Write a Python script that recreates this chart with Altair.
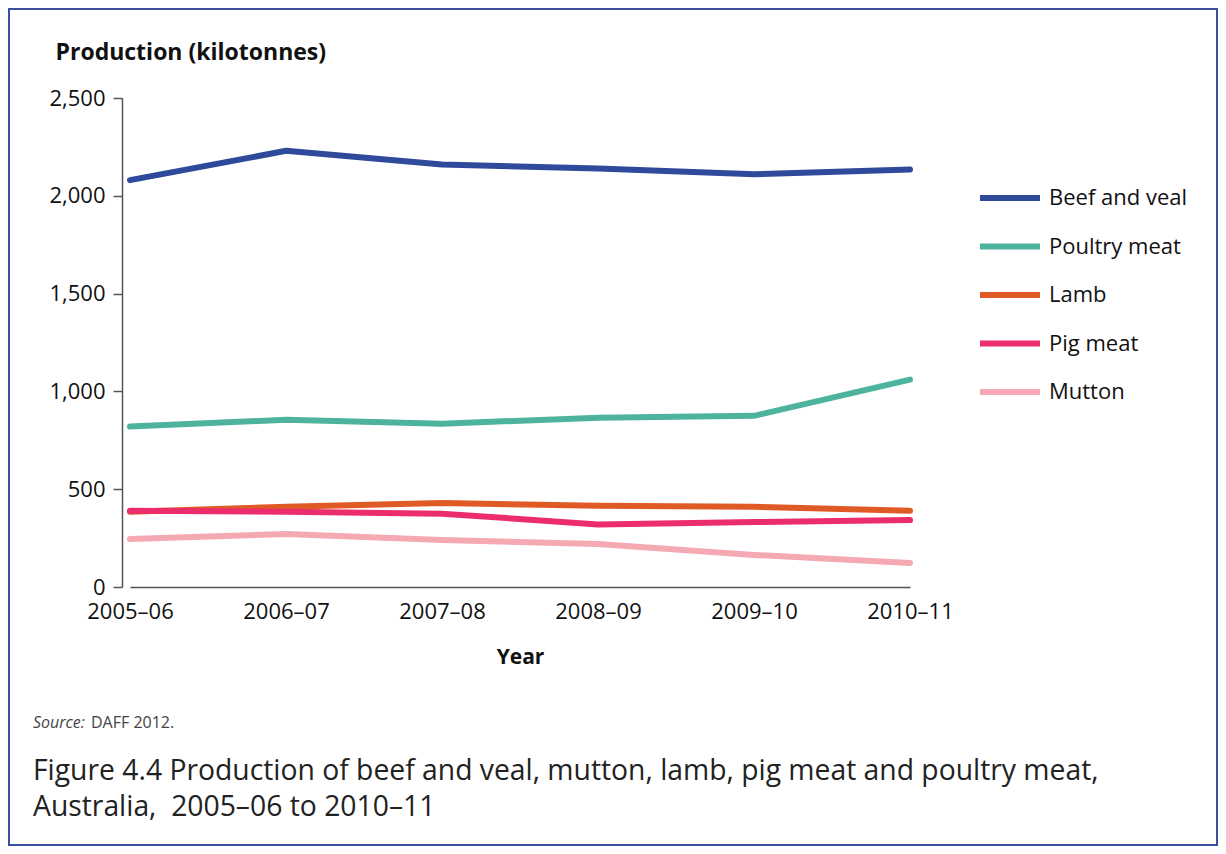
import altair as alt
import pandas as pd

years = ["2005–06", "2006–07", "2007–08", "2008–09", "2009–10", "2010–11"]
series = ["Beef and veal", "Poultry meat", "Lamb", "Pig meat", "Mutton"]
beef = [2080, 2230, 2160, 2140, 2110, 2135]
poultry = [820, 855, 835, 865, 875, 1060]
lamb = [385, 410, 430, 415, 410, 390]
pig = [390, 385, 375, 320, 332, 342]
mutton = [245, 271, 240, 220, 164, 123]
colors = ["#2f4a9b", "#4db39e", "#e05a26", "#ec2d6b", "#f4a9b3"]
y_ticks = [0, 500, 1000, 1500, 2000, 2500]
source_parts = ["Source:", "DAFF 2012."]
caption_lines = ["Figure 4.4 Production of beef and veal, mutton, lamb, pig meat and poultry meat,",
                 "Australia,\u00a0 2005–06 to 2010–11"]

rows = []
for name, vals in zip(series, [beef, poultry, lamb, pig, mutton]):
    for yr, v in zip(years, vals):
        rows.append({"Year": yr, "Series": name, "Value": v})
df = pd.DataFrame(rows)

FONT = "Open Sans"

lines = alt.Chart(df).mark_line(strokeWidth=6, strokeCap="round", strokeJoin="round").encode(
    x=alt.X("Year:N", sort=years,
            scale=alt.Scale(type="point", range=[8, 788], padding=0),
            axis=alt.Axis(title="Year", labelAngle=0, ticks=False, labelPadding=14,
                          titleFontWeight="bold", titleFontSize=21, titlePadding=24)),
    y=alt.Y("Value:Q", scale=alt.Scale(domain=[0, 2500], nice=False),
            axis=alt.Axis(values=y_ticks, format=",.0f", tickSize=9, labelPadding=8,
                          title="Production (kilotonnes)", titleAngle=0, titleAlign="left",
                          titleBaseline="middle", titleX=-67, titleY=-46,
                          titleFontWeight="bold", titleFontSize=23)),
    color=alt.Color("Series:N", sort=series,
                    scale=alt.Scale(domain=series, range=colors),
                    legend=alt.Legend(orient="none", legendX=855, legendY=67, title=None,
                                      symbolType="stroke", symbolSize=3600,
                                      symbolStrokeWidth=6, labelFontSize=22,
                                      labelOffset=6, rowPadding=3.5)),
    detail="Series:N",
)

src1 = alt.Chart(pd.DataFrame({"t": [source_parts[0]]})).mark_text(
    align="left", baseline="middle", fontSize=16, fontStyle="italic", color="#444", font=FONT
).encode(x=alt.value(-89), y=alt.value(625), text="t:N")
src2 = alt.Chart(pd.DataFrame({"t": [source_parts[1]]})).mark_text(
    align="left", baseline="middle", fontSize=16, color="#444", font=FONT
).encode(x=alt.value(-31), y=alt.value(625), text="t:N")

cap1 = alt.Chart(pd.DataFrame({"t": [caption_lines[0]]})).mark_text(
    align="left", baseline="middle", fontSize=28.3, color="#222", font=FONT
).encode(x=alt.value(-89), y=alt.value(674), text="t:N")
cap2 = alt.Chart(pd.DataFrame({"t": [caption_lines[1]]})).mark_text(
    align="left", baseline="middle", fontSize=28.3, color="#222", font=FONT
).encode(x=alt.value(-89), y=alt.value(710), text="t:N")

frame = alt.Chart(pd.DataFrame({"a": [0]})).mark_rect(
    fill=None, stroke="#3a4f9f", strokeWidth=2
).encode(x=alt.value(-113), x2=alt.value(1095), y=alt.value(-89), y2=alt.value(747))

chart = alt.layer(lines, src1, src2, cap1, cap2, frame).properties(
    width=791, height=489,
    autosize=alt.AutoSizeParams(type="none"),
    padding={"left": 114, "top": 90, "right": 305, "bottom": 259},
    background="white",
).configure_view(stroke=None).configure_axis(
    labelFont=FONT, titleFont=FONT, labelFontSize=22, labelColor="#111", titleColor="#111",
    domainColor="#555", tickColor="#555", domainWidth=1.5, tickWidth=1.5, grid=False,
).configure_legend(labelFont=FONT, labelColor="#111")

chart.save("out.html", embed_options={"renderer": "svg", "actions": False})
